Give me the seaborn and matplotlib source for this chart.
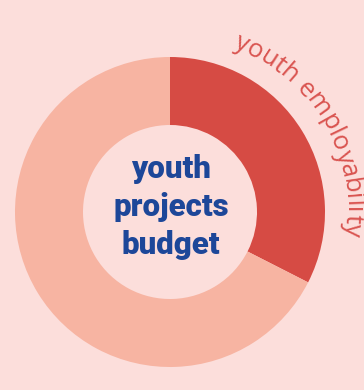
import matplotlib
matplotlib.use("Agg")
import matplotlib.pyplot as plt
import seaborn as sns
import numpy as np
from matplotlib.textpath import TextPath
from matplotlib.font_manager import FontProperties

categories = ["youth employability", "other youth projects"]
values = [32.5, 67.5]
center_lines = ["youth", "projects", "budget"]
arc_label = "youth employability"

BG = "#fcdedb"
RED = "#d64b44"
SALMON = "#f7b4a2"
BLUE = "#1d4799"

sns.set_theme(style="white")
plt.rcParams["font.family"] = ["Open Sans", "DejaVu Sans"]

W, H, DPI = 364, 390, 100
fig = plt.figure(figsize=(W / DPI, H / DPI), dpi=DPI, facecolor=BG)
ax = fig.add_axes([0, 0, 1, 1])
ax.set_facecolor(BG)

CX, CY, R = 170, 212, 155  # pixel center & radius


def px(x, y):
    return (x - CX) / R, (CY - y) / R


ax.pie(values, colors=[RED, SALMON], startangle=90, counterclock=False,
       radius=1.0, wedgeprops=dict(width=68 / R, edgecolor="none", linewidth=0))
ax.set_xlim(px(0, 0)[0], px(W, 0)[0])
ax.set_ylim(px(0, H)[1], px(0, 0)[1])
ax.set_aspect("equal")
ax.axis("off")

# center text
baselines = [178, 216, 254]
for line, yb in zip(center_lines, baselines):
    x, y = px(CX + 1, yb)
    ax.text(x, y, line, ha="center", va="baseline", fontsize=22.5,
            fontweight="heavy", color=BLUE, family=["Roboto", "DejaVu Sans"])

# curved label
fs = 18.5
fp = FontProperties(family="Open Sans", size=fs)
r_base = 176 / R
theta = np.deg2rad(21.0)
px_per_pt = DPI / 72.0
base_w = TextPath((0, 0), "ll", prop=fp).get_extents().width
for ch in arc_label:
    adv = TextPath((0, 0), "l" + ch + "l", prop=fp).get_extents().width - base_w
    w_data = adv * px_per_pt / R
    dth = w_data / r_base
    mid = theta + dth / 2
    x, y = r_base * np.sin(mid), r_base * np.cos(mid)
    if ch != " ":
        ax.text(x, y, ch, fontsize=fs, color="#d9534f", family=["Open Sans", "DejaVu Sans"],
                rotation=-np.rad2deg(mid), rotation_mode="anchor",
                ha="center", va="baseline")
    theta += dth

fig.savefig("out.png", dpi=DPI, facecolor=BG)
